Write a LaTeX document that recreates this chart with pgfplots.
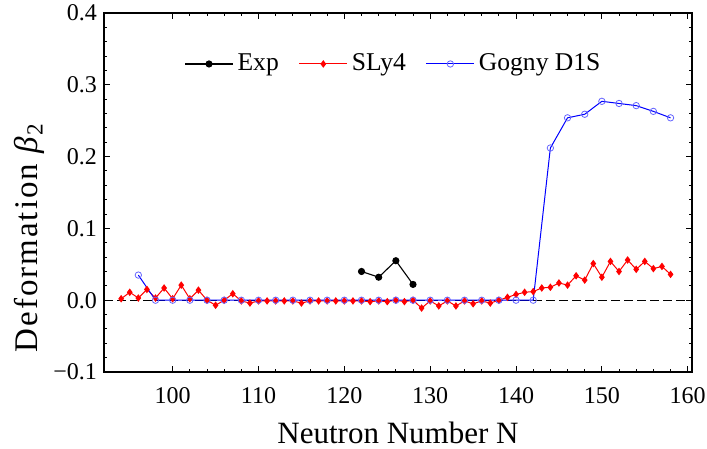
\documentclass[border=0pt]{standalone}
\usepackage{fontspec}
\setmainfont{Liberation Serif}
\newfontfamily\ylabfont[LetterSpace=6]{Liberation Serif}
\usepackage{pgfplots}
\pgfplotsset{compat=1.18}
\usepackage{xcolor}

\definecolor{gogline}{RGB}{0,0,255}
\definecolor{gogmark}{RGB}{100,100,255}

%% SLy4, every N
\pgfplotstableread{
N beta
94 0.002
95 0.011
96 0.003
97 0.015
98 0.003
99 0.017
100 0.002
101 0.021
102 0.002
103 0.014
104 0.000
105 -0.007
106 0.000
107 0.009
108 -0.001
109 -0.004
110 -0.001
111 -0.001
112 -0.001
113 -0.001
114 -0.001
115 -0.004
116 -0.001
117 -0.001
118 -0.001
119 -0.001
120 -0.001
121 -0.001
122 -0.001
123 -0.002
124 -0.001
125 -0.002
126 0.000
127 -0.002
128 0.000
129 -0.011
130 -0.001
131 -0.008
132 -0.001
133 -0.008
134 -0.001
135 -0.005
136 -0.001
137 -0.004
138 0.000
139 0.004
140 0.008
141 0.011
142 0.012
143 0.017
144 0.018
145 0.024
146 0.021
147 0.034
148 0.028
149 0.051
150 0.032
151 0.054
152 0.040
153 0.056
154 0.043
155 0.054
156 0.044
157 0.047
158 0.036
}\slyfour

%% Gogny D1S, even N
\pgfplotstableread{
N beta
96 0.035
98 0.000
100 0.000
102 0.000
104 0.000
106 0.000
108 0.000
110 0.000
112 0.000
114 0.000
116 0.000
118 0.000
120 0.000
122 0.000
124 0.000
126 0.000
128 0.000
130 0.000
132 0.000
134 0.000
136 0.000
138 0.000
140 0.000
142 0.000
144 0.212
146 0.254
148 0.259
150 0.277
152 0.274
154 0.271
156 0.263
158 0.254
}\gogny

\begin{document}
\begin{tikzpicture}
\useasboundingbox (-52pt,-38.5pt) rectangle (301.5pt,186pt);
\begin{axis}[
    scale only axis,
    width  = 294pt,
    height = 179.5pt,
    xmin=92, xmax=160.5,
    ymin=-0.1, ymax=0.4,
    xtick = {100,110,120,130,140,150,160},
    xticklabels = {100,110,120,130,140,150,160},
    ytick = {-0.1,0,0.1,0.2,0.3,0.4},
    yticklabels = {−0.1,0.0,0.1,0.2,0.3,0.4},
    minor x tick num = 4,
    minor y tick num = 4,
    tick align = inside,
    major tick length = 3pt,
    minor tick length = 1.6pt,
    axis line style = {line width=0.6pt},
    every tick/.style = {black, line width=0.5pt},
    tick label style = {font=\fontsize{12}{14}\selectfont},
    xticklabel style = {yshift=-4pt},
    xlabel = {Neutron Number N},
    ylabel = {\ylabfont Deformation \textit{β}\textsubscript{2}},
    every axis x label/.style = {at={(axis description cs:0.50,-0.171)}, anchor=center,
        font=\fontsize{15.5}{18}\selectfont},
    every axis y label/.style = {at={(axis description cs:-0.127,0.375)}, anchor=center,
        rotate=90, font=\fontsize{16.5}{19}\selectfont},
    legend columns = 3,
    legend style = {draw=none, fill=none, at={(0.494,0.858)}, anchor=center,
        font=\fontsize{12.8}{14}\selectfont,
        /tikz/every even column/.append style={column sep=8pt}},
    legend cell align = left,
    legend image code/.code = {\draw[mark repeat=2, mark phase=2, #1]
        plot coordinates {(0pt,0pt) (12pt,0pt) (24pt,0pt)};},
]

%% zero line
\addplot[black, line width=0.5pt, dash pattern=on 4.5pt off 2pt, forget plot]
    coordinates {(92,0) (160.5,0)};

\addplot[black, line width=0.55pt, mark=*, mark size=1.5pt,
    mark options={solid, fill=black}]
    coordinates {(122,0.040) (124,0.032) (126,0.055) (128,0.022)};
\addlegendentry{Exp}

\addplot[red, line width=0.5pt, mark=diamond*, mark size=1.5pt,
    mark options={solid, fill=red}]
    table[x=N, y=beta] {\slyfour};
\addlegendentry{SLy4}

\addplot[gogline, line width=0.5pt, mark=o, mark size=1.6pt,
    mark options={solid, draw=gogmark, line width=0.4pt}]
    table[x=N, y=beta] {\gogny};
\addlegendentry{Gogny D1S}

\end{axis}
\end{tikzpicture}
\end{document}
